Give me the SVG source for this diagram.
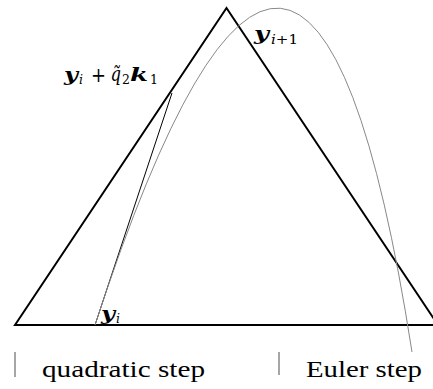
<svg xmlns="http://www.w3.org/2000/svg" width="433" height="389" viewBox="0 0 433 389">
<style>
.m{font-family:"DejaVu Serif","Liberation Serif",serif;fill:#000}
.bi{font-weight:bold;font-style:italic;font-size:19px}
.it{font-style:italic}
.sub{font-size:12.5px}
.lbl{font-family:"Liberation Serif","Times New Roman",serif;font-size:24px;fill:#000}
.tick{stroke:#888;stroke-width:1.5}
</style>
<rect width="433" height="389" fill="#fff"/>
<g id="connectors">
<path id="triangle" d="M15,325 L226.5,8 L438,325 Z" fill="none" stroke="#000" stroke-width="2"/>
<path id="quadratic" d="M95,325 L172,93" fill="none" stroke="#000" stroke-width="1"/>
<path id="euler" d="M95,325 Q307,-322 412,352" fill="none" stroke="#888" stroke-width="1"/>
</g>
<g id="label-mid" class="m">
<text class="m bi" x="64" y="81" textLength="14" lengthAdjust="spacingAndGlyphs">y</text>
<text class="m it sub" x="79" y="84">i</text>
<text class="m" x="91" y="82" font-size="21" textLength="15" lengthAdjust="spacingAndGlyphs">+</text>
<text class="m it" x="110.5" y="81" font-size="20" textLength="10.5" lengthAdjust="spacingAndGlyphs">q̃</text>
<text class="m sub" x="122" y="84">2</text>
<text class="m bi" x="130" y="81" textLength="18" lengthAdjust="spacingAndGlyphs">k</text>
<text class="m sub" x="150" y="84">1</text>
</g>
<g id="label-next" class="m">
<text class="m bi" x="254" y="40" textLength="15" lengthAdjust="spacingAndGlyphs">y</text>
<text class="m sub" x="271" y="43.5" textLength="27" lengthAdjust="spacingAndGlyphs"><tspan class="it">i</tspan>+1</text>
</g>
<g id="label-start" class="m">
<text class="m bi" x="101" y="320" textLength="14" lengthAdjust="spacingAndGlyphs">y</text>
<text class="m it sub" x="116" y="323">i</text>
</g>
<g id="legend">
<line class="tick" x1="15" y1="352" x2="15" y2="377"/>
<text class="lbl" x="42" y="377" textLength="163" lengthAdjust="spacingAndGlyphs">quadratic step</text>
<line class="tick" x1="279" y1="352" x2="279" y2="375"/>
<text class="lbl" x="306" y="377" textLength="116" lengthAdjust="spacingAndGlyphs">Euler step</text>
</g>
</svg>
